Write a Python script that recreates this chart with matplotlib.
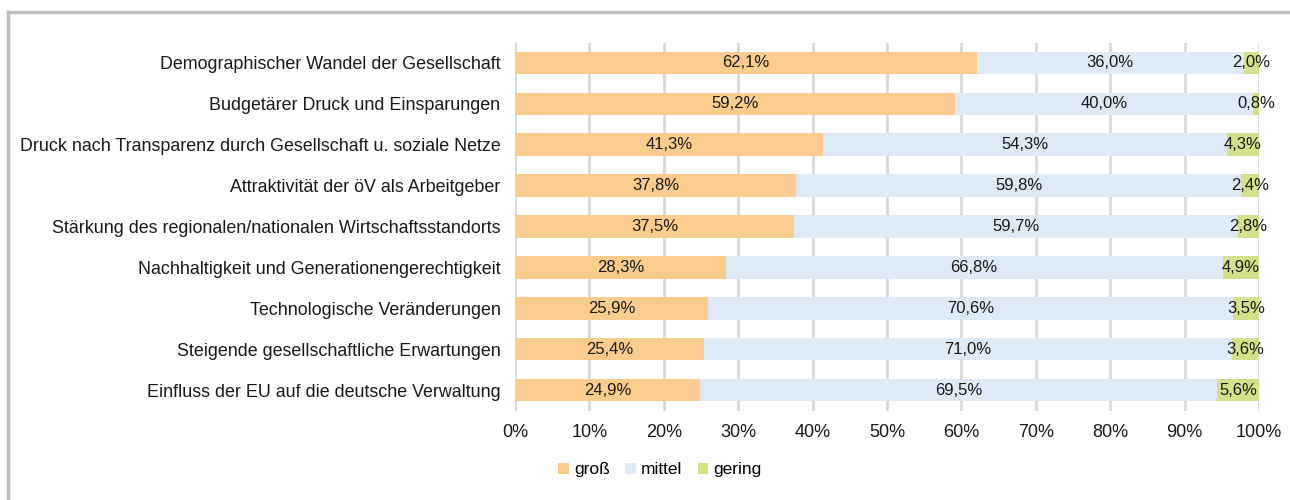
import numpy as np
import matplotlib.pyplot as plt
from matplotlib.lines import Line2D
from matplotlib.ticker import FuncFormatter

plt.rcParams['font.family'] = ['Liberation Sans', 'DejaVu Sans']

categories = [
    "Demographischer Wandel der Gesellschaft",
    "Budgetärer Druck und Einsparungen",
    "Druck nach Transparenz durch Gesellschaft u. soziale Netze",
    "Attraktivität der öV als Arbeitgeber",
    "Stärkung des regionalen/nationalen Wirtschaftsstandorts",
    "Nachhaltigkeit und Generationengerechtigkeit",
    "Technologische Veränderungen",
    "Steigende gesellschaftliche Erwartungen",
    "Einfluss der EU auf die deutsche Verwaltung",
]
gross = [62.1, 59.2, 41.3, 37.8, 37.5, 28.3, 25.9, 25.4, 24.9]
mittel = [36.0, 40.0, 54.3, 59.8, 59.7, 66.8, 70.6, 71.0, 69.5]
gering = [2.0, 0.8, 4.3, 2.4, 2.8, 4.9, 3.5, 3.6, 5.6]
series_names = ["groß", "mittel", "gering"]
colors = ["#FCCB8E", "#DEEAF6", "#D4E08A"]

data = np.array([gross, mittel, gering])
shares = data / data.sum(axis=0) * 100

fig = plt.figure(figsize=(12.9, 5.0), dpi=100)
ax = fig.add_axes([515 / 1290, 1 - 410.5 / 500, (1259 - 515) / 1290, (410.5 - 42.5) / 500])

y = np.arange(len(categories))
left = np.zeros(len(categories))
for i, name in enumerate(series_names):
    bars = ax.barh(y, shares[i], left=left, height=0.55, color=colors[i],
                   label=name, zorder=2)
    for j, b in enumerate(bars):
        txt = f"{data[i][j]:.1f}%".replace(".", ",")
        ax.text(left[j] + shares[i][j] / 2, y[j], txt, ha="center", va="center",
                fontsize=12, color="#1a1a1a", zorder=3)
    left += shares[i]

ax.set_xlim(0, 100)
ax.set_ylim(len(categories) - 0.5, -0.5)
ax.set_yticks(y)
ax.set_yticklabels(categories, fontsize=12.9, color="#1a1a1a")
ax.set_xticks(np.arange(0, 101, 10))
ax.xaxis.set_major_formatter(FuncFormatter(lambda v, p: f"{v:.0f}%"))
ax.tick_params(axis="x", labelsize=13, colors="#1a1a1a", length=0, pad=10)
ax.tick_params(axis="y", length=0, pad=10.5)
ax.grid(axis="x", color="#D9D9D9", linewidth=2, zorder=0)
for s in ax.spines.values():
    s.set_visible(False)

fig.legend(loc="center", bbox_to_anchor=(660 / 1290, 1 - 470 / 500), ncol=3,
           frameon=False, fontsize=12.5, handlelength=0.6, handleheight=0.6,
           handletextpad=0.3, columnspacing=0.9)

# outer frame
fig.add_artist(Line2D([8 / 1290, 8 / 1290], [0, 1 - 12 / 500], color="#BFBFBF",
                      linewidth=2.5, transform=fig.transFigure))
fig.add_artist(Line2D([8 / 1290, 1], [1 - 12 / 500, 1 - 12 / 500], color="#BFBFBF",
                      linewidth=2.5, transform=fig.transFigure))

fig.savefig("out.png", dpi=100)
